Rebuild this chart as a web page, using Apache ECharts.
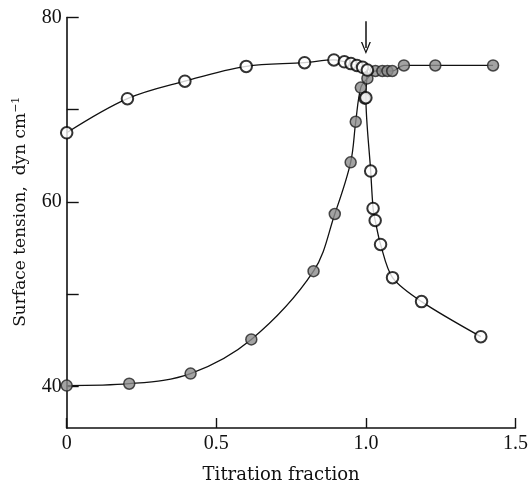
<!DOCTYPE html>
<html>
<head>
<meta charset="utf-8">
<script src="https://cdn.jsdelivr.net/npm/echarts@6/dist/echarts.min.js"></script>
<style>
html,body{margin:0;padding:0;background:#fff;}
#c{width:531px;height:489px;}
</style>
</head>
<body>
<div id="c"></div>
<script>
// Open circles: upper branch (up to the end point) and steep drop after it
var openTopX = [0, 0.203, 0.395, 0.6, 0.795, 0.893, 0.928, 0.95, 0.97, 0.989, 1.005];
var openTopY = [67.5, 71.2, 73.1, 74.7, 75.1, 75.4, 75.2, 75.0, 74.8, 74.6, 74.3];
var openDropX = [1.005, 1.0, 1.016, 1.024, 1.031, 1.049, 1.089, 1.186, 1.384];
var openDropY = [74.3, 71.3, 63.35, 59.3, 58.0, 55.4, 51.8, 49.2, 45.4];
// Filled circles
var filledX = [0, 0.209, 0.414, 0.617, 0.825, 0.896, 0.949, 0.966, 0.983, 1.005, 1.032, 1.055, 1.072, 1.088, 1.127, 1.232, 1.425];
var filledY = [40.1, 40.3, 41.4, 45.1, 52.5, 58.7, 64.3, 68.7, 72.4, 73.4, 74.2, 74.2, 74.2, 74.2, 74.8, 74.8, 74.8];
var filledExtraX = [0.996];
var filledExtraY = [71.2];
// Arrow marking the end point
var arrowX = [1.0, 1.0];
var arrowY = [79.6, 76.7];
// Axis ticks
var xMin = 0, xMax = 1.5, xInterval = 0.5;
var yMin = 35.5, yMax = 80;
var yTicks = [40, 50, 60, 70, 80];
var yLabels = [40, 60, 80];

function pairs(xs, ys) { return xs.map(function (x, i) { return [x, ys[i]]; }); }

var FONT = '"Liberation Serif", "DejaVu Serif", serif';
var NFONT = '"DejaVu Serif", "Liberation Serif", serif';
var chart = echarts.init(document.getElementById('c'), null, {renderer: 'canvas'});
var lineStyle = {color: '#111', width: 1.3};
var openItem = {color: '#fff', borderColor: '#000', borderWidth: 2};
var filledItem = {color: '#8c8c8c', borderColor: '#222', borderWidth: 1.5};

chart.setOption({
  animation: false,
  backgroundColor: '#fff',
  grid: {left: 66.7, right: 12.5, top: 17.5, bottom: 48},
  xAxis: {
    type: 'value', min: xMin, max: xMax, interval: xInterval,
    axisLine: {lineStyle: {color: '#111', width: 1.6}},
    axisTick: {inside: true, length: 10, lineStyle: {color: '#111', width: 1.4}},
    splitLine: {show: false},
    axisLabel: {
      color: '#111', fontFamily: FONT, fontSize: 20, margin: 6,
      formatter: function (v) { return v === 0 ? '0' : v.toFixed(1); }
    },
    name: 'Titration fraction', nameLocation: 'middle', nameGap: 38,
    nameTextStyle: {color: '#111', fontFamily: NFONT, fontSize: 18, padding: [0, 20, 0, 0]}
  },
  yAxis: {
    type: 'value', min: yMin, max: yMax,
    axisLine: {show: true, lineStyle: {color: '#111', width: 1.6}},
    axisTick: {show: true, inside: true, length: 12, customValues: yTicks, lineStyle: {color: '#111', width: 1.4}},
    splitLine: {show: false},
    axisLabel: {color: '#111', fontFamily: FONT, fontSize: 20, margin: 5, customValues: yLabels},
    name: 'Surface tension,  dyn cm{sup|−1}', nameLocation: 'middle', nameGap: 37, nameRotate: 90,
    nameTextStyle: {
      color: '#111', fontFamily: NFONT, fontSize: 17, padding: [0, 0, 0, 22],
      rich: {sup: {fontFamily: NFONT, fontSize: 11, verticalAlign: 'top', padding: [0, 0, 8, 0], color: '#111'}}
    }
  },
  series: [
    {type: 'line', data: pairs(openTopX, openTopY), smooth: 0.35, symbol: 'none', lineStyle: lineStyle, z: 2},
    {type: 'line', data: pairs(openDropX, openDropY), smooth: 0.3, symbol: 'none', lineStyle: lineStyle, z: 2},
    {type: 'line', data: pairs(filledX, filledY), smooth: 0.35, symbol: 'none', lineStyle: lineStyle, z: 2},
    {type: 'scatter', data: pairs(filledX, filledY), symbol: 'circle', symbolSize: 11, itemStyle: filledItem, z: 3},
    {type: 'scatter', data: pairs(filledExtraX, filledExtraY), symbol: 'circle', symbolSize: 11, itemStyle: filledItem, z: 3},
    {type: 'scatter', data: pairs(openTopX, openTopY), symbol: 'circle', symbolSize: 11.5, itemStyle: openItem, z: 4},
    {type: 'scatter', data: pairs(openDropX.slice(1), openDropY.slice(1)), symbol: 'circle', symbolSize: 11.5, itemStyle: openItem, z: 4},
    {
      type: 'line', data: [], symbol: 'none',
      markLine: {
        silent: true, animation: false,
        symbol: ['none', 'path://M0,12 L5,0 L10,12 L8.6,12 L5,3 L1.4,12 Z'],
        symbolSize: [10, 12],
        label: {show: false},
        lineStyle: {color: '#111', width: 1.5, type: 'solid'},
        data: [[{coord: [arrowX[0], arrowY[0]]}, {coord: [arrowX[1], arrowY[1]]}]]
      }
    }
  ]
});
</script>
</body>
</html>
